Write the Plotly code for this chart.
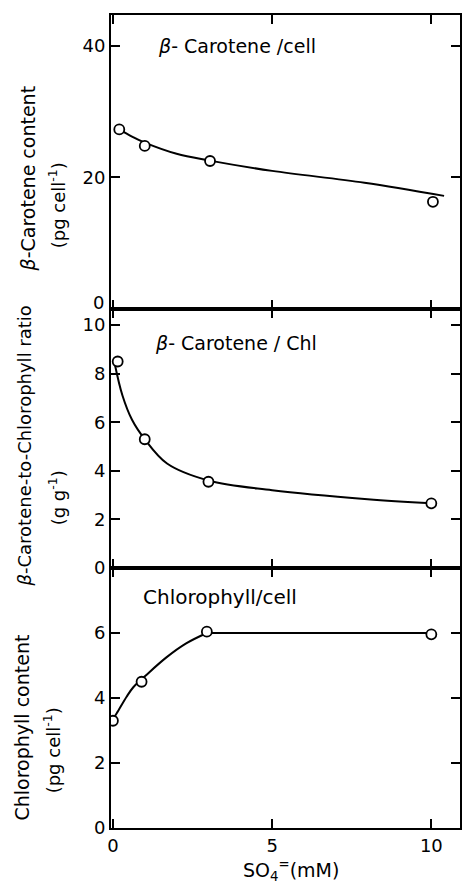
import plotly.graph_objects as go

# ---- data ----
so4_car = [0.2, 1.0, 3.05, 10.05]
car_cell = [27.3, 24.8, 22.5, 16.3]
curve_car_x = [0.2, 0.6, 1.0, 2.0, 3.0, 5.0, 7.9, 10.4]
curve_car_y = [27.3, 26.2, 25.3, 23.6, 22.6, 21.0, 19.2, 17.2]

so4_ratio = [0.15, 1.0, 3.0, 10.0]
ratio = [8.5, 5.3, 3.55, 2.66]
curve_ratio_x = [0.05, 0.3, 0.6, 1.0, 1.7, 3.0, 5.0, 8.0, 10.0]
curve_ratio_y = [8.45, 7.1, 6.1, 5.3, 4.3, 3.6, 3.2, 2.83, 2.66]

so4_chl = [0.0, 0.9, 2.95, 10.0]
chl_cell = [3.3, 4.5, 6.04, 5.96]
curve_chl_x = [0.0, 0.12, 0.43, 0.64, 1.05, 1.68, 2.3, 2.95]
curve_chl_y = [3.35, 3.53, 4.04, 4.33, 4.71, 5.25, 5.68, 6.0]
flat_chl_x = [2.95, 10.0]
flat_chl_y = [6.0, 6.0]

x_ticks = [0, 5, 10]
y_ticks_car = [20, 40]          # the "0" of this panel is drawn as a lifted label
y_zero_label_car = "0"
y_ticks_ratio = [0, 2, 4, 6, 8, 10]
y_ticks_chl = [0, 2, 4, 6]

FONT = "DejaVu Sans"
W, H = 463, 886
L, R, T, B = 111, 1, 15, 58
ph = H - T - B
d1 = (828 - 568) / ph
d2 = (828 - 309) / ph

fig = go.Figure()

line_style = dict(color="black", width=2)
marker_style = dict(symbol="circle", size=10, color="white",
                    line=dict(color="black", width=1.8))

def add_panel(cx, cy, px, py, xa, ya):
    fig.add_trace(go.Scatter(x=cx, y=cy, mode="lines",
                             line=dict(shape="spline", smoothing=1.0, **line_style),
                             xaxis=xa, yaxis=ya, showlegend=False, hoverinfo="skip"))
    fig.add_trace(go.Scatter(x=px, y=py, mode="markers", marker=marker_style,
                             xaxis=xa, yaxis=ya, showlegend=False))

add_panel(curve_car_x, curve_car_y, so4_car, car_cell, "x3", "y3")
add_panel(curve_ratio_x, curve_ratio_y, so4_ratio, ratio, "x2", "y2")
fig.add_trace(go.Scatter(x=flat_chl_x, y=flat_chl_y, mode="lines", line=line_style,
                         xaxis="x", yaxis="y", showlegend=False, hoverinfo="skip"))
add_panel(curve_chl_x, curve_chl_y, so4_chl, chl_cell, "x", "y")

xrange = [-0.06, 10.9]
axis_common = dict(showline=True, linecolor="black", linewidth=2, mirror="ticks",
                   ticks="inside", ticklen=9, tickwidth=2, tickcolor="black",
                   showgrid=False, zeroline=False,
                   tickfont=dict(family=FONT, size=18, color="black"))

fig.update_layout(
    width=W, height=H,
    margin=dict(l=L, r=R, t=T, b=B),
    plot_bgcolor="white", paper_bgcolor="white",
    font=dict(family=FONT, color="black"),
    xaxis=dict(domain=[0, 1], range=xrange, tickvals=x_ticks, anchor="y", **axis_common),
    xaxis2=dict(domain=[0, 1], range=xrange, tickvals=x_ticks, showticklabels=False, anchor="y2", **axis_common),
    xaxis3=dict(domain=[0, 1], range=xrange, tickvals=x_ticks, showticklabels=False, anchor="y3", **axis_common),
    yaxis=dict(domain=[0, d1], range=[0, 8.0], tickvals=y_ticks_chl, anchor="x", **axis_common),
    yaxis2=dict(domain=[d1, d2], range=[0, 10.66], tickvals=y_ticks_ratio, anchor="x2", **axis_common),
    yaxis3=dict(domain=[d2, 1], range=[0, 44.7], tickvals=y_ticks_car, anchor="x3", **axis_common),
)

def px_x(p):
    return (p - L) / (W - L - R)

def px_y(p):
    return (H - B - p) / ph

ann = []
# lifted "0" label of the top panel
ann.append(dict(text=y_zero_label_car, x=px_x(106), y=px_y(302), xanchor="right",
                font=dict(size=18)))
# panel labels
ann.append(dict(text="<i>β</i>- Carotene /cell", x=px_x(156), y=px_y(46), xanchor="left",
                font=dict(size=19)))
ann.append(dict(text="<i>β</i>- Carotene / Chl", x=px_x(153), y=px_y(343), xanchor="left",
                font=dict(size=19)))
ann.append(dict(text="Chlorophyll/cell", x=px_x(141), y=px_y(597), xanchor="left",
                font=dict(size=20)))
# y titles (one annotation per line)
ann.append(dict(text="<i>β</i>-Carotene content", x=px_x(28), y=px_y(178), textangle=-90, font=dict(size=19)))
ann.append(dict(text="(pg cell<sup>-1</sup>)", x=px_x(57), y=px_y(205), textangle=-90, font=dict(size=18)))
ann.append(dict(text="<i>β</i>-Carotene-to-Chlorophyll ratio", x=px_x(25), y=px_y(446), textangle=-90,
                font=dict(size=18)))
ann.append(dict(text="(g g<sup>-1</sup>)", x=px_x(57), y=px_y(498), textangle=-90, font=dict(size=18)))
ann.append(dict(text="Chlorophyll content", x=px_x(21), y=px_y(728), textangle=-90, font=dict(size=19)))
ann.append(dict(text="(pg cell<sup>-1</sup>)", x=px_x(52), y=px_y(750), textangle=-90, font=dict(size=18)))
# x title
ann.append(dict(text="SO<sub>4</sub><sup>=</sup>(mM)", x=px_x(292), y=px_y(870), font=dict(size=19)))
for a in ann:
    a.setdefault("xanchor", "center")
    a.update(xref="paper", yref="paper", showarrow=False, yanchor="middle")
    a["font"].update(family=FONT, color="black")
fig.update_layout(annotations=ann)

fig.write_html("out.html", config={"displayModeBar": False},
               post_script="document.body.style.margin='0';document.body.style.overflow='hidden';")
